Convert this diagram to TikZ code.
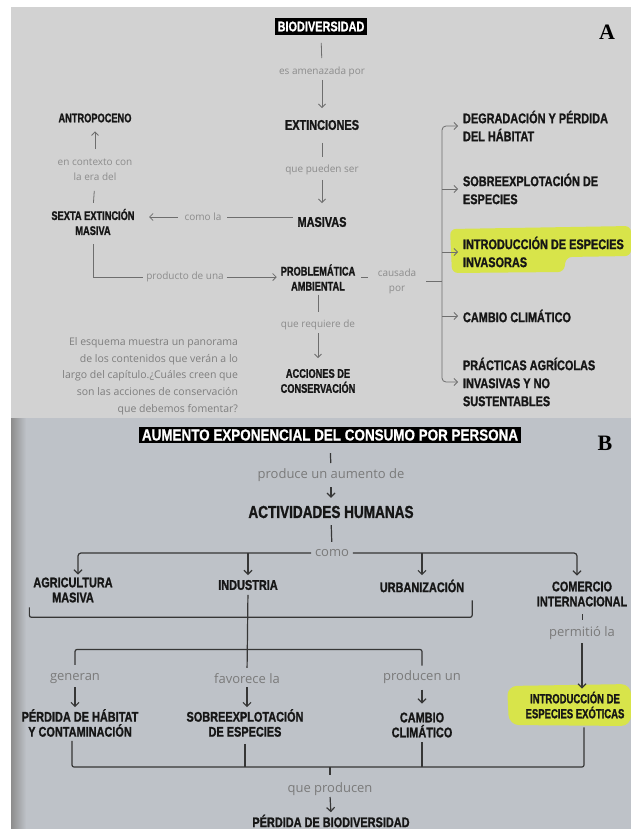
\documentclass[tikz,border=0pt]{standalone}
\usepackage{fontspec}
\usetikzlibrary{arrows.meta,calc}
\newfontfamily\condf{Liberation Sans}[FakeStretch=0.78,FakeBold=1.2]
\newfontfamily\condn{Liberation Sans}[FakeStretch=0.74,FakeBold=1.2]
\newfontfamily\condx{Liberation Sans}[FakeStretch=0.72,FakeBold=1.2]
\newfontfamily\condw{Liberation Sans}[FakeStretch=0.84,FakeBold=0.8]
\newfontfamily\labf{Open Sans}
\newfontfamily\tagf{Liberation Serif}

\definecolor{panelA}{HTML}{D2D2D2}
\definecolor{panelB}{HTML}{BEC2C8}
\definecolor{ink}{HTML}{161616}
\definecolor{labA}{HTML}{8C8C8C}
\definecolor{parA}{HTML}{7E7E7E}
\definecolor{lineA}{HTML}{6E6E6E}
\definecolor{labB}{HTML}{7A7A7A}
\definecolor{lineB}{HTML}{363636}
\definecolor{hilite}{HTML}{D8E44A}

\tikzset{
  every node/.style={inner sep=0pt, outer sep=0pt},
  bigA/.style={font=\condf\bfseries\fontsize{14}{18}\selectfont, text=ink},
  rightA/.style={bigA, anchor=west, align=left},
  smallA/.style={font=\condn\bfseries\fontsize{12.5}{15}\selectfont, text=ink, align=center},
  labelA/.style={font=\labf\fontsize{10}{15}\selectfont, text=labA, align=center},
  lnA/.style={draw=lineA, line width=0.8pt},
  arA/.style={lnA, -{Straight Barb[length=3.5pt,width=7pt]}},
  titlebox/.style={fill=black, text=white, inner xsep=3pt, inner ysep=3.5pt},
  nodeB/.style={font=\condf\bfseries\fontsize{14}{15}\selectfont, text=ink, align=center},
  labelB/.style={font=\labf\fontsize{13}{15}\selectfont, text=labB},
  lnB/.style={draw=lineB, line width=1.2pt},
  arB/.style={lnB, -{Straight Barb[length=4pt,width=8pt]}},
  tag/.style={font=\tagf\bfseries\fontsize{22}{24}\selectfont, text=black},
}

\begin{document}
\begin{tikzpicture}[x=1pt,y=-1pt]
\useasboundingbox (0,0) rectangle (631,829);
\clip (0,0) rectangle (631,829);

% page and the two panels
\fill[white] (0,0) rectangle (631,829);
\fill[panelA] (11,7) rectangle (631,418);
\fill[panelB] (11,418) rectangle (631,829);
\shade[left color=black!45, right color=panelB] (11,418) rectangle (26,829);

% highlighter marks
\fill[hilite, rounded corners=6pt] (450,229) -- (631,226) -- (631,256) -- (566,257) -- (564,272) -- (452,273) -- cycle;
\fill[hilite, rounded corners=10pt] (507,686) -- (631,684) -- (631,726) -- (509,725) -- cycle;

% ---------- panel A ----------
\node[titlebox, font=\condf\bfseries\fontsize{14}{14}\selectfont] (bio) at (321,26.5) {BIODIVERSIDAD};
\node[labelA] (amen) at (322,72) {es amenazada por};
\node[bigA] (ext) at (322,125) {EXTINCIONES};
\node[labelA] (pued) at (322,170) {que pueden ser};
\node[bigA] (mas) at (322,222) {MASIVAS};
\node[labelA] (comola) at (203,217) {como la};
\node[smallA] (sexta) at (93,222) {SEXTA EXTINCIÓN\\MASIVA};
\node[labelA] (ctx) at (95,170) {en contexto con\\la era del};
\node[smallA] (antro) at (95,118) {ANTROPOCENO};
\node[labelA] (prodl) at (185,277) {producto de una};
\node[smallA] (prob) at (318,277.5) {PROBLEMÁTICA\\AMBIENTAL};
\node[labelA] (caus) at (397,281) {causada\\por};
\node[labelA] (req) at (318,325) {que requiere de};
\node[smallA] (acc) at (318,381) {ACCIONES DE\\CONSERVACIÓN};
\node[font=\labf\fontsize{10.5}{16.7}\selectfont, text=parA, align=right, anchor=east] (note) at (238,376)
  {El esquema muestra un panorama\\de los contenidos que verán a lo\\largo del capítulo.¿Cuáles creen que\\son las acciones de conservación\\que debemos fomentar?};
\node[rightA] (deg) at (463,126) {DEGRADACIÓN Y PÉRDIDA\\DEL HÁBITAT};
\node[rightA] (sob) at (463,189) {SOBREEXPLOTACIÓN DE\\ESPECIES};
\node[rightA] (inv) at (463,252) {INTRODUCCIÓN DE ESPECIES\\INVASORAS};
\node[rightA] (cam) at (463,316) {CAMBIO CLIMÁTICO};
\node[rightA] (pra) at (463,382) {PRÁCTICAS AGRÍCOLAS\\INVASIVAS Y NO\\SUSTENTABLES};
\node[tag] (tagA) at (607,32) {A};
\coordinate (bus) at (442,280);

\draw[lnA, shorten <=8pt, shorten >=9pt] (bio.south) -- (amen.north);
\draw[arA, shorten <=3pt, shorten >=12pt] (amen.south) -- (ext.north);
\draw[lnA, shorten <=13pt, shorten >=8pt] (ext.south) -- (pued.north);
\draw[arA, shorten <=5pt, shorten >=14pt] (pued.south) -- (mas.north);
\draw[lnA, shorten <=5pt, shorten >=5.5pt] (comola.east -| mas.west) -- (comola.east);
\draw[arA, shorten <=7pt, shorten >=14.5pt] (comola.west) -- (comola.west -| sexta.east);
\draw[lnA, shorten <=6pt, shorten >=10pt] (sexta.north) -- (ctx.south);
\draw[arA, shorten <=10pt, shorten >=9pt] (ctx.north) -- (antro.south);
\draw[lnA, shorten <=9pt, shorten >=3pt] (sexta.south) |- (prodl.west);
\draw[arA, shorten <=3pt, shorten >=4pt] (prodl.east) -- (prodl.east -| prob.west);
\draw[lnA, shorten <=6pt, shorten >=10pt] (prob.east) -- (prob.east -| caus.west);
\draw[lnA, shorten <=10pt] (caus.east) -- (caus.east -| bus);
\draw[arA, rounded corners=4pt, shorten >=5pt] (bus) |- (deg.west);
\draw[arA, rounded corners=4pt, shorten >=5pt] (bus) |- (pra.west);
\draw[arA, shorten >=5pt] (bus |- sob.west) -- (sob.west);
\draw[arA, shorten >=5pt] (bus |- inv.west) -- (inv.west);
\draw[arA, shorten >=5pt] (bus |- cam.west) -- (cam.west);
\draw[lnA, shorten <=4pt, shorten >=8pt] (prob.south) -- (req.north);
\draw[arA, shorten <=3pt, shorten >=11pt] (req.south) -- (acc.north);

% ---------- panel B ----------
\node[titlebox, inner ysep=2.5pt, font=\condw\bfseries\fontsize{16}{16}\selectfont] (aum) at (330,435) {AUMENTO EXPONENCIAL DEL CONSUMO POR PERSONA};
\node[tag] (tagB) at (605,443) {B};
\node[labelB] (aumde) at (331,475) {produce un aumento de};
\node[font=\condf\bfseries\fontsize{17.4}{20}\selectfont, text=ink] (act) at (331,512) {ACTIVIDADES HUMANAS};
\node[labelB] (como) at (332,553) {como};
\node[nodeB] (agr) at (73,590) {AGRICULTURA\\MASIVA};
\node[nodeB] (ind) at (248,585) {INDUSTRIA};
\node[nodeB] (urb) at (422,586) {URBANIZACIÓN};
\node[nodeB] (com) at (582,594) {COMERCIO\\INTERNACIONAL};
\node[labelB] (perm) at (582,633) {permitió la};
\node[labelB] (gen) at (75,679) {generan};
\node[labelB] (fav) at (247,679) {favorece la};
\node[labelB] (pro) at (422,677) {producen un};
\node[nodeB] (phab) at (80,723) {PÉRDIDA DE HÁBITAT\\Y CONTAMINACIÓN};
\node[nodeB] (sobB) at (245,723) {SOBREEXPLOTACIÓN\\DE ESPECIES};
\node[nodeB] (camB) at (422,725) {CAMBIO\\CLIMÁTICO};
\node[nodeB, font=\condx\bfseries\fontsize{13.2}{15}\selectfont] (intB) at (575,705) {INTRODUCCIÓN DE\\ESPECIES EXÓTICAS};
\node[labelB] (qprod) at (330,789) {que producen};
\node[nodeB] (pbio) at (331,821) {PÉRDIDA DE BIODIVERSIDAD};
\coordinate (hub) at (330,767);

\draw[lnB, shorten <=10pt, shorten >=5.5pt] (aum.south) -- (aumde.north);
\draw[arB, shorten <=5.5pt, shorten >=8pt] (aumde.south) -- (act.north);
\draw[lnB, shorten <=7pt, shorten >=7.5pt] (act.south) -- (como.north);
\draw[arB, rounded corners=3pt, shorten <=4pt, shorten >=3pt] (como.west) -| ([xshift=5pt]agr.north);
\draw[arB, shorten >=5pt] (ind.north |- como.west) -- (ind.north);
\draw[arB, rounded corners=3pt, shorten <=4pt, shorten >=6pt] (como.east) -| ([xshift=-5pt]com.north);
\draw[arB, shorten >=4.5pt] (urb.north |- como.east) -- (urb.north);
\draw[lnB, rounded corners=2pt] ($(agr.south west)+(-4,5)$) |- ($(urb.south east)+(8,25)$) -- ($(urb.south east)+(8,8)$);
\draw[lnB, shorten <=5pt, shorten >=6pt] (ind.south) -- (fav.north);
\draw[lnB, rounded corners=2pt] ($(gen.north)+(0,-9)$) |- ($(pro.north)+(0,-21)$) -- ($(pro.north)+(0,-5)$);
\draw[arB, shorten <=3pt, shorten >=2pt] (gen.south) -- (gen.south |- phab.north);
\draw[arB, shorten <=3pt, shorten >=2pt] (fav.south) -- (fav.south |- sobB.north);
\draw[arB, shorten <=6pt, shorten >=9pt] (pro.south) -- (camB.north);
\draw[lnB, line width=0.8pt, shorten <=8pt, shorten >=6.5pt] (com.south) -- (perm.north);
\draw[arB, shorten <=3.5pt, shorten >=3pt] (perm.south) -- (perm.south |- intB.north);
\draw[lnB, rounded corners=2pt, shorten <=4pt, shorten >=9pt] ($(phab.south)+(-8,0)$) |- (hub) -| ($(intB.south)+(9,0)$);
\draw[lnB, shorten <=7pt] (sobB.south) -- (sobB.south |- hub);
\draw[lnB, shorten <=5pt] (camB.south) -- (camB.south |- hub);
\draw[lnB, shorten >=7.5pt] (hub) -- (qprod.north);
\draw[arB, shorten <=1.5pt, shorten >=2.5pt] (qprod.south) -- (pbio.north);
\end{tikzpicture}
\end{document}
